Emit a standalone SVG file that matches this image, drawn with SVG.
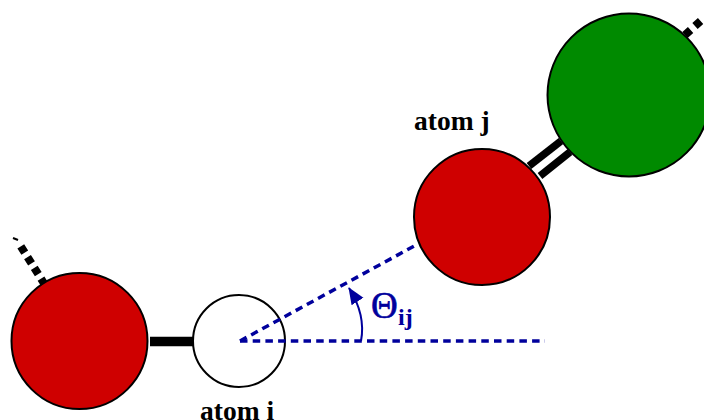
<svg xmlns="http://www.w3.org/2000/svg" width="704" height="420" viewBox="0 0 704 420">
<style>
.atom{stroke:#000;stroke-width:2}
.red{fill:#cf0000}
.lbl{font-family:"Liberation Serif",serif;font-weight:bold;font-size:27.500px;fill:#000}
.bond{stroke:#000;fill:none}
.dash{stroke:#00009c;stroke-width:3.500;fill:none;stroke-dasharray:7.500 5.200}
</style>
<defs><marker id="ah" markerUnits="userSpaceOnUse" markerWidth="18" markerHeight="16" refX="16" refY="7" orient="auto"><path d="M0 0L17 7L0 14Z" fill="#00009c"/></marker></defs>
<rect width="704" height="420" fill="#fff"/>
<g id="connectors">
<path class="bond" stroke-width="9.500" d="M150 341.500H193"/>
<path class="bond" stroke-width="7.500" d="M529 166L561 141"/>
<path class="bond" stroke-width="7.500" d="M540 176L570 152"/>
<path class="bond" stroke-width="8" stroke-dasharray="7.500 5.200" d="M45 285L19 243.500"/>
<path class="bond" stroke-width="2" d="M18 240L13 238"/>
<path class="bond" stroke-width="8" stroke-dasharray="7.500 5.900" d="M685 35L704 18"/>
</g>
<g id="atom-left"><circle class="atom red" cx="79.500" cy="341" r="68"/></g>
<g id="atom-i"><circle class="atom" cx="239" cy="341" r="46" fill="#fff"/><text class="lbl" x="200" y="420">atom i</text></g>
<g id="atom-j"><circle class="atom red" cx="482" cy="217" r="68"/><text class="lbl" x="414" y="130">atom j</text></g>
<g id="atom-green"><circle class="atom" cx="629" cy="95" r="81.500" fill="#008a00"/></g>
<g id="angle">
<path class="dash" d="M240 341H545"/>
<path class="dash" d="M240 341L416 245"/>
<path fill="none" stroke="#00009c" stroke-width="2" marker-end="url(#ah)" d="M361 341Q366 315 349 288"/>
<text x="371" y="318" font-family="Liberation Serif,serif" font-size="37" stroke="#00009c" stroke-width="0.600" fill="#00009c">Θ</text>
<text x="398" y="325" font-family="Liberation Serif,serif" font-weight="bold" font-size="24" fill="#00009c">ij</text>
</g>
</svg>
